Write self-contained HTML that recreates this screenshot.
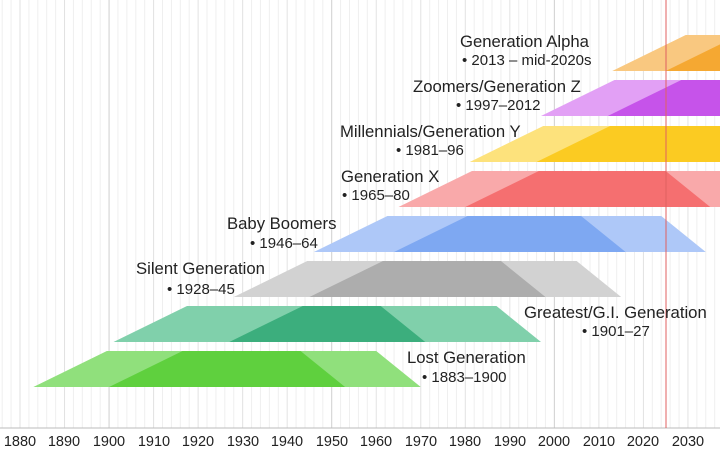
<!DOCTYPE html>
<html><head><meta charset="utf-8"><style>
html,body{margin:0;padding:0;background:#fff;}
svg{display:block;font-family:"Liberation Sans",sans-serif;}
</style></head><body>
<svg id="s" width="720" height="450" viewBox="0 0 720 450">
<g id="grid"></g>
<g id="bands"></g>
<line x1="0" y1="428" x2="720" y2="428" stroke="#bbb" stroke-width="1"/>
<line x1="666" y1="0" x2="666" y2="428" stroke="#e06060" stroke-width="1"/>
<g font-size="14.5" fill="#222" text-anchor="middle">
<text x="20" y="446">1880</text><text x="64" y="446">1890</text><text x="109" y="446">1900</text><text x="154" y="446">1910</text><text x="198" y="446">1920</text><text x="243" y="446">1930</text><text x="287" y="446">1940</text><text x="332" y="446">1950</text><text x="376" y="446">1960</text><text x="421" y="446">1970</text><text x="465" y="446">1980</text><text x="510" y="446">1990</text><text x="554" y="446">2000</text><text x="599" y="446">2010</text><text x="643" y="446">2020</text><text x="688" y="446">2030</text>
</g>
<g fill="#222" font-size="16.7">
<text x="460" y="47">Generation Alpha</text>
<text x="462" y="65" font-size="15">• 2013 – mid-2020s</text>
<text x="413" y="92">Zoomers/Generation Z</text>
<text x="456" y="110" font-size="15">• 1997–2012</text>
<text x="340" y="137">Millennials/Generation Y</text>
<text x="396" y="155" font-size="15">• 1981–96</text>
<text x="341" y="182">Generation X</text>
<text x="342" y="200" font-size="15">• 1965–80</text>
<text x="227" y="229">Baby Boomers</text>
<text x="250" y="248" font-size="15">• 1946–64</text>
<text x="136" y="274">Silent Generation</text>
<text x="167" y="294" font-size="15">• 1928–45</text>
<text x="524" y="318">Greatest/G.I. Generation</text>
<text x="582" y="336" font-size="15">• 1901–27</text>
<text x="407" y="363">Lost Generation</text>
<text x="422" y="382" font-size="15">• 1883–1900</text>
</g>
</svg>
<script>
var X=function(y){return 20+(y-1880)*4.453;};
var g=document.getElementById('grid'),h='';
for(var y=1876;y<=2040;y+=2){var x=X(y);var maj=(y%10==0);
h+='<line x1="'+x+'" y1="0" x2="'+x+'" y2="428" stroke="'+(y%50==0?'#cfcfcf':maj?'#e2e2e2':'#efefef')+'" stroke-width="1"/>';}
g.innerHTML=h;
var B=[[2013,2025,35,'#f9c880','#f5a832'],[1997,2012,80,'#e2a0f5','#c653ea'],[1981,1996,126,'#fde27c','#fbcb22'],
[1965,1980,171,'#f9a9aa','#f56f70'],[1946,1964,216,'#aec8f8','#7ea8f2'],[1928,1945,261,'#d2d2d2','#adadad'],
[1901,1927,306,'#80d0ab','#3cae7d'],[1883,1900,351,'#90e07c','#5fd03e']];
var s='';
B.forEach(function(b){var a=b[0],e=b[1],t=b[2],bt=t+36;
s+='<polygon fill="'+b[3]+'" points="'+X(a)+','+bt+' '+X(a+16.5)+','+t+' '+X(e+60)+','+t+' '+X(e+70)+','+bt+'"/>';
s+='<polygon fill="'+b[4]+'" points="'+X(e)+','+bt+' '+X(e+16.5)+','+t+' '+X(a+60)+','+t+' '+X(a+70)+','+bt+'"/>';});
document.getElementById('bands').innerHTML=s;
</script>
</body></html>
